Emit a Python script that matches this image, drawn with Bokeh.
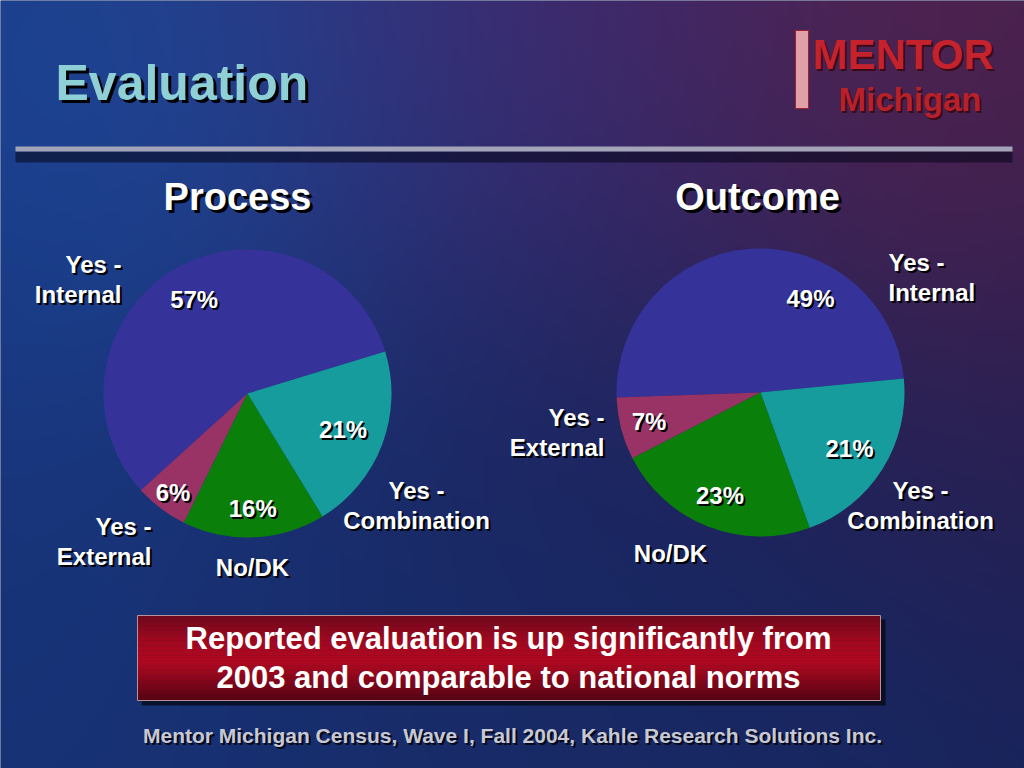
import numpy as np
from bokeh.plotting import figure
from bokeh.models import Range1d, ColumnDataSource
from bokeh.core.properties import value
from bokeh.embed import file_html
from bokeh.resources import INLINE

# ---------------- data ----------------
categories = ["Yes - Internal", "Yes - External", "No/DK", "Yes - Combination"]
process_pct = [57, 6, 16, 21]
outcome_pct = [49, 7, 23, 21]
slice_colors = ["#35339a", "#993366", "#0a800a", "#169c9c"]
chart_titles = ["Process", "Outcome"]
slide_title = "Evaluation"
callout_lines = ["Reported evaluation is up significantly from",
                 "2003 and comparable to national norms"]
footer = "Mentor Michigan Census, Wave I, Fall 2004, Kahle Research Solutions Inc."

FONT = value("Liberation Sans")

p = figure(width=1024, height=768, x_range=Range1d(0, 1024), y_range=Range1d(0, 768),
           output_backend="svg", toolbar_location=None, min_border=0)
p.axis.visible = False
p.grid.visible = False
p.outline_line_color = None
p.background_fill_color = "#17265c"
p.border_fill_color = "#17265c"


def Y(py):
    return 768 - py


# ---------------- background ----------------
h, w = 192, 256
yy, xx = np.mgrid[0:h, 0:w]
px = (xx + 0.5) * 1024 / w
py = 768 - (yy + 0.5) * 768 / h
blobs = [
    (150, 110, 190, (30, 82, 168), 1.3),
    (40, 300, 220, (24, 60, 140), 0.8),
    (520, 60, 210, (78, 46, 122), 1.2),
    (930, 60, 190, (98, 34, 72), 1.3),
    (1000, 330, 200, (45, 30, 80), 0.7),
    (80, 680, 260, (24, 58, 130), 0.9),
    (520, 720, 260, (26, 48, 112), 0.7),
    (520, 420, 260, (22, 32, 86), 0.9),
]
acc = np.zeros((h, w, 3))
wsum = np.full((h, w), 0.35)
acc += 0.35 * np.array([22, 34, 88])
for cx, cy, s, col, k in blobs:
    wt = k * np.exp(-((px - cx) ** 2 + (py - cy) ** 2) / (2 * s * s))
    acc += wt[..., None] * np.array(col)
    wsum += wt
rgb = np.clip(acc / wsum[..., None], 0, 255).astype(np.uint8)
img = np.empty((h, w), dtype=np.uint32)
view = img.view(dtype=np.uint8).reshape((h, w, 4))
view[..., :3] = rgb
view[..., 3] = 255
p.image_rgba(image=[img], x=0, y=0, dw=1024, dh=768)


def shadow_text(x, y, texts, size, color, align="center", off=2, shadow="#000000", bold=True):
    p.text(x=[xi + off for xi in x], y=[yi - off for yi in y], text=texts,
           text_font=FONT, text_font_size=size, text_font_style="bold" if bold else "normal",
           text_color=shadow, text_align=align, text_baseline="middle")
    p.text(x=x, y=y, text=texts, text_font=FONT, text_font_size=size,
           text_font_style="bold" if bold else "normal",
           text_color=color, text_align=align, text_baseline="middle")


# ---------------- header ----------------
p.quad(left=[15], right=[1012], bottom=[Y(162)], top=[Y(151)], fill_color="#06061a",
       fill_alpha=0.55, line_color=None)
p.quad(left=[15], right=[1012], bottom=[Y(151)], top=[Y(146)], fill_color="#a4a4b8",
       line_color=None)
shadow_text([55], [Y(82)], [slide_title], "50px", "#8fd0d6", align="left", off=3)

# logo
p.quad(left=[795], right=[808], bottom=[Y(108)], top=[Y(30)], fill_color="#e0a0a8",
       line_color="#a02030", line_width=1)
shadow_text([812], [Y(54)], ["MENTOR"], "42px", "#c4222c", align="left", off=2, shadow="#3a0a18")
shadow_text([838], [Y(99)], ["Michigan"], "33px", "#b8202a", align="left", off=2, shadow="#3a0a18")

# ---------------- pies ----------------
pies = [
    dict(cx=247, cy=393, r=144, vals=process_pct, start=17.0,
         pct_r=[0.75, 0.86, 0.80, 0.71], pct_shift=[0, 0, 0, 0],
         lab=[(121, 264, "right"), (151, 526, "right"), (252, 567, "center"), (416, 490, "center")],
         tx=237),
    dict(cx=760, cy=392, r=144, vals=outcome_pct, start=5.6,
         pct_r=[0.74, 0.80, 0.77, 0.73], pct_shift=[-31.8, 0, 0, 0],
         lab=[(888, 262, "left"), (604, 417, "right"), (670, 553, "center"), (920, 490, "center")],
         tx=757),
]

for i, pie in enumerate(pies):
    vals = np.array(pie["vals"], dtype=float)
    fr = vals / vals.sum()
    ang = np.radians(pie["start"]) + 2 * np.pi * np.concatenate([[0], np.cumsum(fr)])
    src = ColumnDataSource(dict(start=ang[:-1], end=ang[1:], color=slice_colors,
                                cat=categories, val=pie["vals"]))
    p.wedge(x=pie["cx"], y=Y(pie["cy"]), radius=pie["r"], radius_units="screen",
            start_angle="start", end_angle="end", direction="anticlock",
            fill_color="color", line_color=None, source=src)
    mid = (ang[:-1] + ang[1:]) / 2 + np.radians(pie["pct_shift"])
    rr = np.array(pie["pct_r"]) * pie["r"]
    lx = list(pie["cx"] + rr * np.cos(mid))
    ly = list(Y(pie["cy"]) + rr * np.sin(mid))
    shadow_text(lx, ly, [f"{v}%" for v in pie["vals"]], "24px", "#ffffff")
    for cat, (ax, ay, al) in zip(categories, pie["lab"]):
        lines = cat.replace(" - ", " -\n").split("\n")
        shadow_text([ax] * len(lines), [Y(ay + 30 * k) for k in range(len(lines))],
                    lines, "24px", "#ffffff", align=al)
    shadow_text([pie["tx"]], [Y(196)], [chart_titles[i]], "38px", "#ffffff", off=3)

# ---------------- callout box ----------------
p.quad(left=[141], right=[885], bottom=[Y(705)], top=[Y(619)], fill_color="#000000",
       fill_alpha=0.6, line_color=None)
edges = np.linspace(615, 700, 35)
stops_y = [615, 640, 662, 700]
stops_c = [np.array([110, 8, 28]), np.array([160, 8, 32]), np.array([176, 10, 34]),
           np.array([86, 4, 20])]
cols = []
for a, b in zip(edges[:-1], edges[1:]):
    m = (a + b) / 2
    c = np.array([np.interp(m, stops_y, [s[j] for s in stops_c]) for j in range(3)])
    cols.append("#%02x%02x%02x" % tuple(int(v) for v in c))
p.quad(left=[137] * len(cols), right=[880] * len(cols), top=[Y(a) for a in edges[:-1]],
       bottom=[Y(b) for b in edges[1:]], fill_color=cols, line_color=cols, line_width=0.5)
p.quad(left=[137], right=[880], bottom=[Y(700)], top=[Y(615)], fill_color=None,
       line_color="#b89098", line_width=1)
p.text(x=[508, 508], y=[Y(638), Y(677)], text=callout_lines, text_font=FONT,
       text_font_size="31px", text_font_style="bold", text_color="#ffffff",
       text_align="center", text_baseline="middle")

# ---------------- footer ----------------
shadow_text([512], [Y(735)], [footer], "21px", "#c8c8d2", off=2, shadow="#05081a")

html = file_html(p, INLINE, title="Evaluation")
html = html.replace("<body>", '<body style="background-color:#17265c;margin:0;">', 1)
open("out.html", "w").write(html)
